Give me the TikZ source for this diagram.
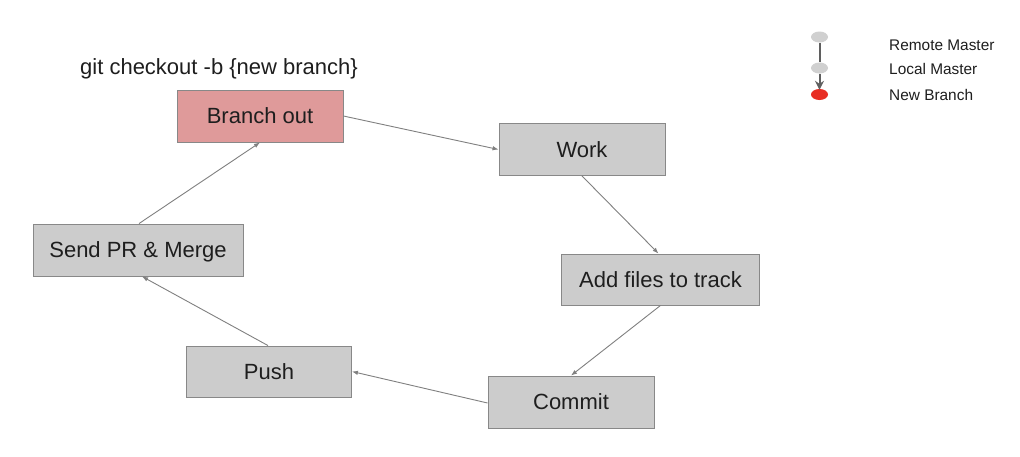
\documentclass[tikz,border=0pt]{standalone}
\usepackage{fontspec}
\setmainfont{Liberation Sans}
\usetikzlibrary{arrows.meta,shapes.geometric}
\definecolor{boxfill}{RGB}{204,204,204}
\definecolor{boxline}{RGB}{136,136,136}
\definecolor{pinkfill}{RGB}{223,154,154}
\definecolor{arrowgray}{RGB}{128,128,128}
\definecolor{dotgray}{RGB}{208,208,208}
\definecolor{dotred}{RGB}{232,45,35}
\definecolor{linedark}{RGB}{95,95,95}
\definecolor{txt}{RGB}{30,30,30}
\tikzset{
  stepbox/.style={draw=boxline, fill=boxfill, line width=0.9pt, inner sep=0pt,
    text=txt, font=\fontsize{22}{24}\selectfont, text height=15.8pt, text depth=0pt},
  flow/.style={draw=arrowgray, line width=0.9pt, -{Latex[length=6pt,width=4.5pt]}},
  legtext/.style={anchor=base west, text=txt, inner sep=0pt, font=\fontsize{15.4}{17}\selectfont},
  legdot/.style={ellipse, inner sep=0pt, minimum width=17pt, minimum height=11pt},
}
\begin{document}
\begin{tikzpicture}[x=1pt,y=-1pt]
\useasboundingbox (0,0) rectangle (1020,456);
\fill[white] (0,0) rectangle (1020,456);

% title
\node (title) [anchor=base west, inner sep=0pt, text=txt, font=\fontsize{22}{24}\selectfont] at (80,74) {git checkout -b \{new branch\}};

% boxes
\node (bo) [stepbox, fill=pinkfill, minimum width=166pt, minimum height=52pt] at (260,116) {Branch out};
\node (work) [stepbox, minimum width=166pt, minimum height=52pt] at (582,149.5) {Work};
\node (add) [stepbox, minimum width=198pt, minimum height=51pt] at (660.5,279.5) {Add files to track};
\node (commit) [stepbox, minimum width=166pt, minimum height=52pt] at (571,402) {Commit};
\node (push) [stepbox, minimum width=165pt, minimum height=51pt] at (269,371.5) {Push};
\node (send) [stepbox, minimum width=210pt, minimum height=52pt] at (138,250) {Send PR \& Merge};

% connectors
\draw[flow] (bo.east) -- (work.west);
\draw[flow] (work.south) -- ([xshift=-2pt]add.north);
\draw[flow] (add.south) -- (commit.north);
\draw[flow] ([yshift=-1pt]commit.west) -- (push.east);
\draw[flow] ([xshift=-1pt]push.north) -- ([xshift=4pt]send.south);
\draw[flow] ([xshift=1pt]send.north) -- (bo.south);

% legend
\node (lr) [legdot, fill=dotgray] at (819.5,37) {};
\node (ll) [legdot, fill=dotgray] at (819.5,68) {};
\node (ln) [legdot, fill=dotred] at (819.5,94.5) {};
\draw[draw=linedark, line width=2pt] (lr.south) -- (ll.north);
\draw[draw=linedark, fill=linedark, line width=2pt, -{Stealth[length=9pt,width=9pt,inset=3pt]}] (ll.south) -- ([yshift=-1pt]ln.north);
\node (tr) [legtext] at (889,50.7) {Remote Master};
\node (tl) [legtext] at (889,74.3) {Local Master};
\node (tn) [legtext] at (889,100.5) {New Branch};
\end{tikzpicture}
\end{document}
